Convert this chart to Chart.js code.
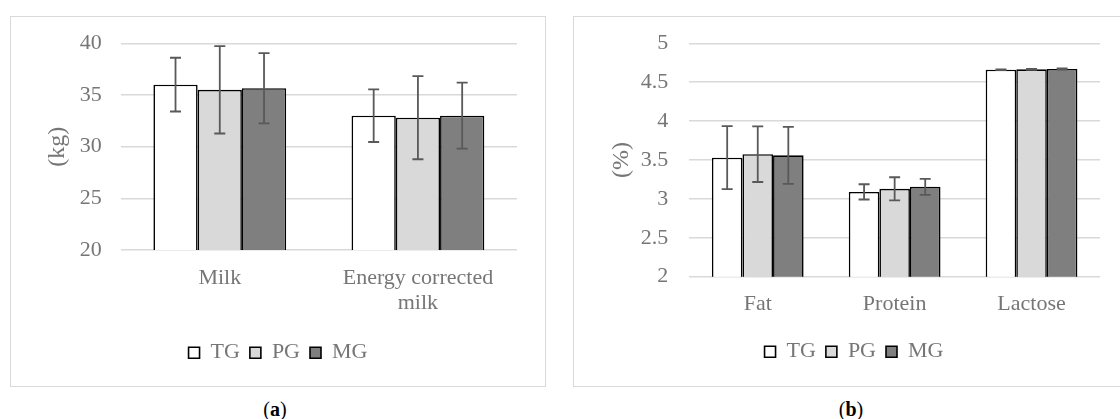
<!DOCTYPE html>
<html>
<head>
<meta charset="utf-8">
<script src="https://cdn.jsdelivr.net/npm/chart.js@4"></script>
<style>
  html, body { margin: 0; padding: 0; background: #fff; overflow: hidden; }
  #stage { position: relative; width: 1120px; height: 419px; }
  .frame { position: absolute; border: 1.5px solid #d9d9d9; box-sizing: border-box; }
  canvas { position: absolute; }
  .caption {
    position: absolute;
    width: 80px;
    text-align: center;
    font-family: 'Liberation Serif', 'Times New Roman', serif;
    font-size: 20px;
    line-height: 22px;
    color: #000;
  }
</style>
</head>
<body>
<div id="stage">
  <div class="frame" style="left:10px;top:16px;width:536px;height:371px;"></div>
  <canvas id="chartA" width="536" height="371" style="left:10px;top:16px;"></canvas>
  <div class="caption" style="left:235px;top:398px;">(<b>a</b>)</div>

  <div class="frame" style="left:573px;top:16px;width:562px;height:371px;"></div>
  <canvas id="chartB" width="562" height="371" style="left:573px;top:16px;"></canvas>
  <div class="caption" style="left:811px;top:398px;">(<b>b</b>)</div>
</div>

<script>
const groups = ['TG', 'PG', 'MG'];
const fills = ['#ffffff', '#d9d9d9', '#7f7f7f'];

// (a) milk yield, kg
const milkCategories = ['Milk', ['Energy corrected', 'milk']];
const tgKg = [36.0, 33.0];
const pgKg = [35.5, 32.8];
const mgKg = [35.65, 33.0];
const tgKgErr = [2.6, 2.55];
const pgKgErr = [4.23, 4.02];
const mgKgErr = [3.4, 3.2];
const kgTicks = [20, 25, 30, 35, 40];

// (b) milk composition, %
const compCategories = ['Fat', 'Protein', 'Lactose'];
const tgPct = [3.53, 3.09, 4.66];
const pgPct = [3.575, 3.13, 4.665];
const mgPct = [3.56, 3.155, 4.67];
const tgPctErr = [0.405, 0.098, 0.006];
const pgPctErr = [0.358, 0.148, 0.005];
const mgPctErr = [0.367, 0.103, 0.008];
const pctTicks = [2, 2.5, 3, 3.5, 4, 4.5, 5];

const FONT = "'Liberation Serif', 'Times New Roman', serif";
const TEXT_GRAY = '#767676';

// draws the +/- bars on top of each column
const errorBars = {
    id: 'errorBars',
    afterDatasetsDraw(chart) {
        const ctx = chart.ctx;
        const yScale = chart.scales.y;
        chart.data.datasets.forEach((ds, i) => {
            const meta = chart.getDatasetMeta(i);
            meta.data.forEach((bar, j) => {
                const top = yScale.getPixelForValue(ds.data[j] + ds.errors[j]);
                const bottom = yScale.getPixelForValue(ds.data[j] - ds.errors[j]);
                ctx.save();
                ctx.strokeStyle = '#595959';
                ctx.lineWidth = 1.8;
                ctx.beginPath();
                ctx.moveTo(bar.x, top);
                ctx.lineTo(bar.x, bottom);
                ctx.moveTo(bar.x - 5.5, top);
                ctx.lineTo(bar.x + 5.5, top);
                ctx.moveTo(bar.x - 5.5, bottom);
                ctx.lineTo(bar.x + 5.5, bottom);
                ctx.stroke();
                ctx.restore();
            });
        });
    }
};

function makeChart(id, labels, values, errors, ticks, yTitle, dims) {
    const ctx = document.getElementById(id).getContext('2d');
    return new Chart(ctx, {
        type: 'bar',
        data: {
            labels: labels,
            datasets: groups.map((g, i) => ({
                label: g,
                data: values[i],
                errors: errors[i],
                backgroundColor: fills[i],
                borderColor: '#000000',
                borderWidth: 1.6,
                categoryPercentage: 0.67,
                barPercentage: 1.0
            }))
        },
        options: {
            responsive: false,
            animation: false,
            layout: {
                padding: { top: dims.padTop, bottom: dims.padBottom, left: 0, right: 0 }
            },
            plugins: {
                tooltip: { enabled: false },
                legend: {
                    position: 'bottom',
                    labels: {
                        boxWidth: 11,
                        boxHeight: 11,
                        padding: 10,
                        color: TEXT_GRAY,
                        font: { family: FONT, size: 22 }
                    }
                }
            },
            scales: {
                x: {
                    grid: { display: false, drawTicks: false },
                    border: { display: false },
                    ticks: {
                        color: TEXT_GRAY,
                        font: { family: FONT, size: 22, lineHeight: 1.16 },
                        padding: dims.xPad,
                        maxRotation: 0,
                        autoSkip: false
                    },
                    afterFit: s => { s.height = dims.xHeight; }
                },
                y: {
                    min: ticks[0],
                    max: ticks[ticks.length - 1],
                    afterBuildTicks: s => { s.ticks = ticks.map(v => ({ value: v })); },
                    grid: { color: '#d9d9d9', lineWidth: 1.6, drawTicks: false },
                    border: { display: false },
                    ticks: {
                        color: TEXT_GRAY,
                        // small line height keeps the top label from pushing the plot down
                        font: { family: FONT, size: 22, lineHeight: 0.5 },
                        padding: dims.yPad,
                        callback: v => String(v)
                    },
                    title: {
                        display: true,
                        text: yTitle,
                        color: TEXT_GRAY,
                        font: { family: FONT, size: 24 },
                        padding: { top: dims.titlePad, bottom: 0 }
                    },
                    afterFit: s => { s.width = dims.yWidth; }
                },
                yPad: {
                    position: 'right',
                    grid: { display: false, drawTicks: false },
                    border: { display: false },
                    ticks: { display: false },
                    afterFit: s => { s.width = dims.rightWidth; }
                }
            }
        },
        plugins: [errorBars]
    });
}

makeChart('chartA', milkCategories,
    [tgKg, pgKg, mgKg], [tgKgErr, pgKgErr, mgKgErr],
    kgTicks, '(kg)',
    { yWidth: 110.7, rightWidth: 29, xHeight: 81.7, padTop: 27.3, padBottom: 13.3,
      titlePad: 33.7, yPad: 19, xPad: 15 });

makeChart('chartB', compCategories,
    [tgPct, pgPct, mgPct], [tgPctErr, pgPctErr, mgPctErr],
    pctTicks, '(%)',
    { yWidth: 116.3, rightWidth: 35, xHeight: 54, padTop: 27.3, padBottom: 14.3,
      titlePad: 34.7, yPad: 21, xPad: 14.3 });
</script>
</body>
</html>
